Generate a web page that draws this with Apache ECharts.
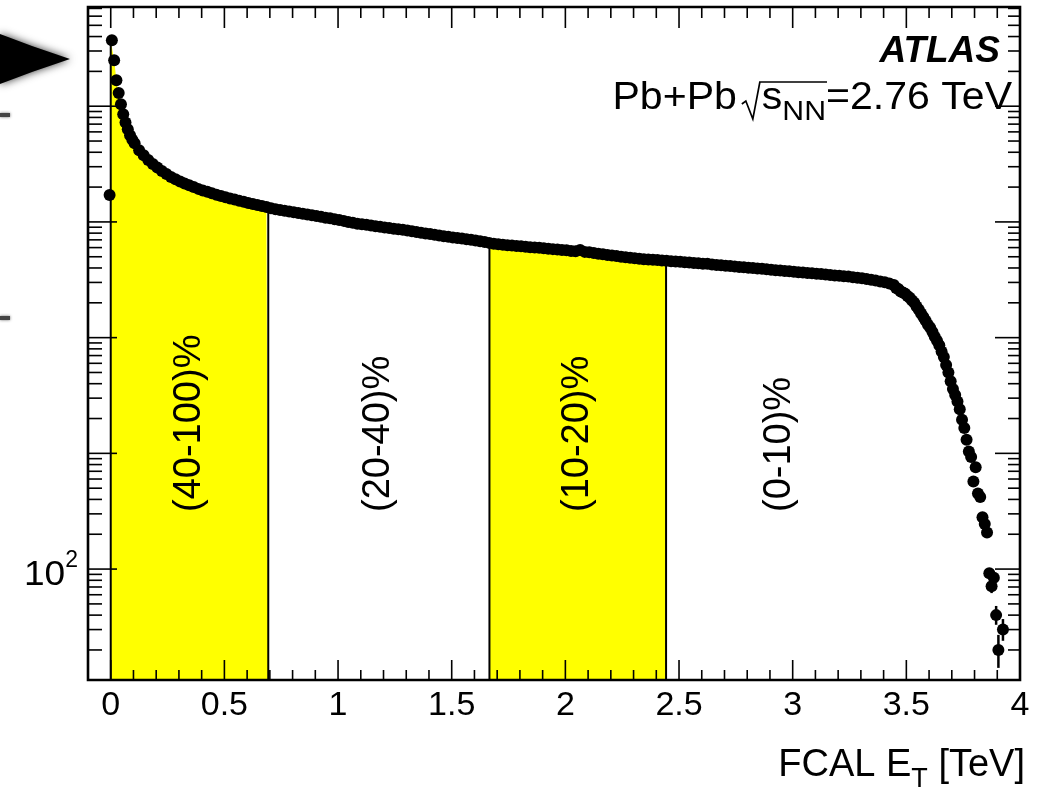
<!DOCTYPE html>
<html><head><meta charset="utf-8">
<script src="https://cdn.jsdelivr.net/npm/echarts@6/dist/echarts.min.js"></script>
<style>html,body{margin:0;padding:0;background:#fff}#c{width:1055px;height:792px}</style>
</head><body><div id="c"></div>
<script>
// ---- DATA: [FCAL ET bin centre (TeV), events per bin] ----
const lowBins = [[-0.005,171000],[0.005,3720000],[0.015,2500000],[0.025,1680000],[0.035,1300000],[0.045,1040000],[0.055,851000],[0.065,724000],[0.075,631000],[0.085,562000],[0.095,513000]];
const midBins = [[0.105,479000],[0.125,417000],[0.145,376000],[0.165,343000],[0.185,316000],[0.205,295000],[0.225,275000],[0.245,260000],[0.265,245000],[0.285,234000],[0.305,224000],[0.325,215000],[0.345,207000],[0.365,200000],[0.385,193000],[0.405,187000],[0.425,182000],[0.445,177000],[0.465,172000],[0.485,167500],[0.505,163300],[0.525,159600],[0.545,156000],[0.565,152400],[0.585,149300],[0.605,145900],[0.625,142900],[0.645,140000],[0.665,137100],[0.685,134300],[0.705,131500],[0.725,128800],[0.745,126800],[0.765,125000],[0.785,123000],[0.805,121300],[0.825,119700],[0.845,117800],[0.865,116100],[0.885,114300],[0.905,112500],[0.925,110700],[0.945,108900],[0.965,107400],[0.985,105700],[1.005,104000],[1.025,102100],[1.045,100000],[1.065,98200],[1.085,96600],[1.105,95500],[1.125,94400],[1.145,93100],[1.165,91800],[1.185,90800],[1.205,89700],[1.225,88700],[1.245,87500],[1.265,86500],[1.285,85500],[1.305,84500],[1.325,83200],[1.345,81800],[1.365,80500],[1.385,79400],[1.405,78500],[1.425,77400],[1.445,76200],[1.465,75200],[1.485,74300],[1.505,73500],[1.525,72600],[1.545,71800],[1.565,70800],[1.585,70000],[1.605,69200],[1.625,68100],[1.645,67000],[1.665,65900],[1.685,64900],[1.705,64000],[1.725,63400],[1.745,62800],[1.765,62400],[1.785,61900],[1.805,61500],[1.825,61100],[1.845,60500],[1.865,60100],[1.885,59700],[1.905,59300],[1.925,58700],[1.945,58200],[1.965,57700],[1.985,57100],[2.005,56800],[2.025,56200],[2.045,55800],[2.065,57300],[2.085,55100],[2.105,54600],[2.125,54000],[2.145,53200],[2.165,52500],[2.185,51900],[2.205,51300],[2.225,50700],[2.245,50100],[2.265,49500],[2.285,49000],[2.305,48500],[2.325,48100],[2.345,47600],[2.365,47300],[2.385,47000],[2.405,46800],[2.425,46500],[2.445,46100],[2.465,45800],[2.485,45500],[2.505,45200],[2.525,44800],[2.545,44500],[2.565,44200],[2.585,43900],[2.605,43400],[2.625,43600],[2.645,42800],[2.665,42500],[2.685,42200],[2.705,41900],[2.725,41500],[2.745,41200],[2.765,40800],[2.785,40600],[2.805,40200],[2.825,39900],[2.845,39500],[2.865,39300],[2.885,38900],[2.905,38600],[2.925,38300],[2.945,38000],[2.965,37700],[2.985,37400],[3.005,37100],[3.025,36800],[3.045,36500],[3.065,36200],[3.085,36000],[3.105,35700],[3.125,35400],[3.145,35200],[3.165,34800],[3.185,34500],[3.205,34300],[3.225,34000],[3.245,33700],[3.265,33300],[3.285,33000],[3.305,32600],[3.325,32100],[3.345,31600],[3.365,31100],[3.385,30600],[3.405,30100],[3.425,29400],[3.445,28500]];
const tailBins = [[3.455,26900],[3.465,26300],[3.475,25100],[3.485,24500],[3.495,24000],[3.505,22900],[3.515,22100],[3.525,20900],[3.535,20000],[3.545,18600],[3.555,17400],[3.565,16200],[3.575,15100],[3.585,14000],[3.595,12900],[3.605,12200],[3.615,11200],[3.625,10200],[3.635,9400],[3.645,8600],[3.655,7600],[3.665,6800],[3.675,5800],[3.685,5000],[3.695,4200],[3.705,3600],[3.715,3200],[3.725,2800],[3.735,2400],[3.745,1950],[3.755,1660],[3.765,1310],[3.775,1040],[3.785,930],[3.795,570],[3.805,760],[3.815,450],[3.825,420],[3.835,280],[3.845,245],[3.855,207],[3.865,92],[3.875,71],[3.885,84],[3.895,40],[3.905,20],[3.925,30]];
// [bin centre, lower edge, upper edge] of the visible error bars
const tailErrors = [[3.865,82,102],[3.875,62,80],[3.885,74,94],[3.895,33,48],[3.905,14,27],[3.925,24,37]];
const classEdges = [0, 0.693, 1.666, 2.443];
const shadedRanges = [[0, 0.693], [1.666, 2.443]];
const classLabels = ['(40-100)%', '(20-40)%', '(10-20)%', '(0-10)%'];
const xTitle = ['FCAL E', 'T', ' [TeV]'];
const expLabel = ['Pb+Pb', 's', 'NN', '=2.76 TeV'];
const yLabel = ['10', '2'];

// ---- layout ----
const FONT = '"Liberation Sans", Arial, Helvetica, sans-serif';
const xMin = -0.1, xMax = 4, yMin = 11, yMax = 7.2e6;
const labelXs = [0.345, 1.18, 2.055, 2.94];

const allBins = lowBins.concat(midBins, tailBins);
function nearest(x) {
  let best = allBins[0];
  for (const b of allBins) if (Math.abs(b[0] - x) <= Math.abs(best[0] - x)) best = b;
  return best[1];
}

const chart = echarts.init(document.getElementById('c'));
const series = [];
shadedRanges.forEach(([a, b]) => {
  series.push({
    type: 'line', silent: true, symbol: 'none', z: 1,
    data: [[a, nearest(a)]].concat(allBins.filter(p => p[0] > a && p[0] < b), [[b, nearest(b)]]),
    lineStyle: { width: 0 }, areaStyle: { color: '#ffff00', opacity: 1 }
  });
});
classEdges.forEach(e => {
  series.push({
    type: 'line', silent: true, symbol: 'none', z: 3,
    data: [[e, yMin], [e, nearest(e)]],
    lineStyle: { color: '#000', width: 2 }
  });
});
series.push({
  type: 'custom', silent: true, z: 4, data: tailErrors,
  renderItem: (params, api) => {
    const a = api.coord([api.value(0), api.value(1)]);
    const b = api.coord([api.value(0), api.value(2)]);
    return { type: 'line', shape: { x1: a[0], y1: a[1], x2: b[0], y2: b[1] }, style: { stroke: '#000', lineWidth: 2.5 } };
  }
});
series.push({
  type: 'scatter', silent: true, z: 5, symbol: 'circle', symbolSize: 12,
  itemStyle: { color: '#000', opacity: 1 }, data: allBins
});

chart.setOption({
  animation: false,
  backgroundColor: '#fff',
  grid: { left: 88, right: 35, top: 7, bottom: 112, containLabel: false },
  xAxis: {
    type: 'value', min: xMin, max: xMax, interval: 0.1,
    axisLine: { show: false }, axisTick: { show: false }, splitLine: { show: false },
    axisLabel: {
      color: '#000', fontSize: 34, fontFamily: FONT, margin: 9, showMinLabel: true, showMaxLabel: true,
      formatter: v => { const r = Math.round(v * 10); return (r % 5 === 0 && r >= 0) ? String(r / 10) : ''; }
    }
  },
  yAxis: {
    type: 'log', logBase: 10, min: yMin, max: yMax,
    axisLine: { show: false }, axisTick: { show: false }, splitLine: { show: false },
    axisLabel: { show: false }
  },
  series
});

// ---- frame, ticks, texts ----
const P = (x, y) => chart.convertToPixel({ gridIndex: 0 }, [x, y]);
const [L, B] = P(xMin, yMin);
const [R, T] = P(xMax, yMax);
const mctx = document.createElement('canvas').getContext('2d');
const tw = (t, f) => { mctx.font = f; return mctx.measureText(t).width; };
const g = [];
const line = (x1, y1, x2, y2, w) => g.push({ type: 'line', silent: true, z: 100, shape: { x1, y1, x2, y2 }, style: { stroke: '#000', lineWidth: w || 1.6 } });
const text = (t, x, y, font, align, valign, rot, sx) => g.push({ type: 'text', silent: true, z: 100, x, y, rotation: rot || 0, scaleX: sx || 1, style: { text: t, font, fill: '#000', textAlign: align || 'left', textVerticalAlign: valign || 'middle' } });

g.push({ type: 'rect', silent: true, z: 101, shape: { x: L, y: T, width: R - L, height: B - T }, style: { fill: 'none', stroke: '#000', lineWidth: 2.6 } });
for (let k = 0; k < 40; k++) {
  const x = P(k / 10, yMin)[0];
  const major = k % 5 === 0;
  line(x, B, x, B - (major ? 20 : 10));
  line(x, T, x, T + (major ? 21 : 11));
}
for (let n = 1; n <= 6; n++) {
  for (let m = 1; m <= 9; m++) {
    const v = m * Math.pow(10, n);
    if (v < yMin || v > yMax) continue;
    const y = P(xMin, v)[1];
    const major = m === 1;
    line(L, y, L + (major ? 29 : 14), y);
    line(R, y, R - (major ? 25 : 12), y);
  }
}
// y label 10^2
{
  const y = P(xMin, 100)[1];
  const fs = '23px ' + FONT, fb = '35px ' + FONT;
  text(yLabel[1], 78, y - 8, fs, 'right');
  text(yLabel[0], 78 - tw(yLabel[1], fs), y + 6, fb, 'right', 'middle', 0, 1.06);
}
// class labels
classLabels.forEach((t, i) => {
  const x = P(labelXs[i], yMin)[0];
  text(t, x, 512, '38px ' + FONT, 'left', 'middle', Math.PI / 2);
});
// ATLAS
text('ATLAS', 1000, 52, 'italic bold 37px ' + FONT, 'right');
// Pb+Pb sqrt(sNN)=2.76 TeV
{
  const sx = 1.08;
  const fb = '38px ' + FONT, fs = '28px ' + FONT;
  const yb = 99;
  let xr = 1012;
  text(expLabel[3], xr, yb, fb, 'right', 'middle', 0, sx);
  xr -= tw(expLabel[3], fb) * sx;
  const nnW = tw(expLabel[2], fs) * sx;
  text(expLabel[2], xr - nnW, yb + 13, fs, 'left', 'middle', 0, sx);
  const overEnd = xr + 1;
  xr -= nnW;
  const sW = tw(expLabel[1], fb) * sx;
  text(expLabel[1], xr - sW, yb, fb, 'left', 'middle', 0, sx);
  xr -= sW;
  const rx = xr - 1;
  g.push({ type: 'polyline', silent: true, z: 100, shape: { points: [[rx - 19, yb + 5], [rx - 15, yb + 2], [rx - 8, yb + 20], [rx - 1, yb - 17], [overEnd, yb - 17]] }, style: { stroke: '#000', lineWidth: 1.7, fill: 'none' } });
  text(expLabel[0], rx - 24, yb, fb, 'right', 'middle', 0, sx);
}
// x-axis title
{
  const fb = '38px ' + FONT, fs = '27px ' + FONT;
  const yb = 766;
  let xr = 1025;
  text(xTitle[2], xr, yb, fb, 'right');
  xr -= tw(xTitle[2], fb);
  text(xTitle[1], xr, yb + 14, fs, 'right');
  xr -= tw(xTitle[1], fs);
  text(xTitle[0], xr, yb, fb, 'right');
}
// arrow artifact at top-left and cropped marks
g.push({ type: 'polygon', silent: true, z: 90, shape: { points: [[0, 34], [32, 46], [70, 59], [32, 72], [0, 84]] }, style: { fill: '#000', shadowBlur: 8, shadowColor: 'rgba(0,0,0,0.8)' } });
g.push({ type: 'rect', silent: true, z: 90, shape: { x: 0, y: 113, width: 10, height: 4 }, style: { fill: '#444', shadowBlur: 3, shadowColor: '#666' } });
g.push({ type: 'rect', silent: true, z: 90, shape: { x: 0, y: 316, width: 10, height: 4 }, style: { fill: '#444', shadowBlur: 3, shadowColor: '#666' } });

chart.setOption({ graphic: g });
</script>
</body></html>
